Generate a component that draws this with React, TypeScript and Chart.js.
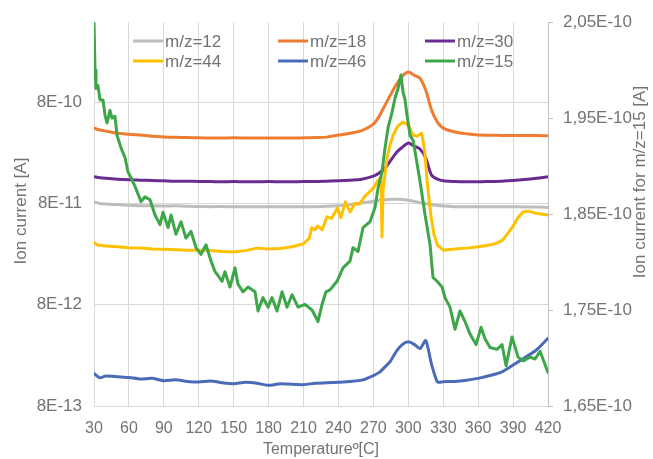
import React, { useEffect, useRef } from 'react';
import { Chart, registerables } from 'chart.js';
Chart.register(...registerables);

const FONT = "'Liberation Sans', Arial, sans-serif";
const TEXT = '#737373';

const xTickValues = [30, 60, 90, 120, 150, 180, 210, 240, 270, 300, 330, 360, 390, 420];
const leftTickValues = [8e-13, 8e-12, 8e-11, 8e-10];
const rightTickValues = [1.65, 1.75, 1.85, 1.95, 2.05]; // ×1E-10

const seriesLabels = ['m/z=12', 'm/z=18', 'm/z=30', 'm/z=44', 'm/z=46', 'm/z=15'];
const seriesColors = ['#BDBDBD', '#EE7D31', '#6B2C91', '#FFC000', '#4A6CB8', '#3DA648'];

// shared temperatures for m/z=12, 18, 30, 46
const temps = [30, 35, 40, 50, 60, 70, 80, 90, 100, 110, 120, 130, 140, 150, 160, 170, 180, 190, 200, 210, 220, 230, 240, 250, 260, 270, 275, 280, 285, 290, 295, 300, 305, 310, 315, 320, 325, 330, 340, 350, 360, 370, 380, 390, 400, 410, 420];

// ×1E-11
const mz12 = [8.3, 8.0, 7.9, 7.8, 7.7, 7.62, 7.6, 7.55, 7.58, 7.5, 7.48, 7.45, 7.47, 7.42, 7.45, 7.43, 7.45, 7.42, 7.44, 7.43, 7.45, 7.5, 7.6, 7.8, 8.1, 8.4, 8.6, 8.7, 8.8, 8.8, 8.75, 8.6, 8.4, 8.15, 7.95, 7.8, 7.65, 7.55, 7.45, 7.42, 7.45, 7.42, 7.45, 7.43, 7.4, 7.38, 7.3];
// ×1E-10
const mz18 = [4.44, 4.25, 4.15, 3.96, 3.87, 3.79, 3.7, 3.64, 3.6, 3.58, 3.56, 3.55, 3.55, 3.56, 3.55, 3.54, 3.55, 3.55, 3.54, 3.56, 3.58, 3.62, 3.79, 3.96, 4.2, 4.86, 5.83, 7.49, 9.6, 12.1, 14.5, 15.9, 14.8, 13.8, 10.5, 6.69, 5.09, 4.44, 4.06, 3.9, 3.8, 3.78, 3.76, 3.75, 3.75, 3.75, 3.73];
// ×1E-10
const mz30 = [1.47, 1.44, 1.42, 1.39, 1.37, 1.36, 1.35, 1.34, 1.33, 1.33, 1.32, 1.32, 1.31, 1.32, 1.31, 1.31, 1.32, 1.31, 1.31, 1.32, 1.32, 1.33, 1.34, 1.36, 1.39, 1.49, 1.6, 1.79, 2.14, 2.57, 2.88, 3.16, 2.95, 2.76, 2.25, 1.52, 1.39, 1.34, 1.32, 1.31, 1.31, 1.32, 1.33, 1.35, 1.38, 1.42, 1.47];
// ×1E-12
const mz46 = [1.68, 1.52, 1.58, 1.56, 1.53, 1.48, 1.5, 1.42, 1.45, 1.4, 1.38, 1.41, 1.36, 1.33, 1.37, 1.34, 1.28, 1.33, 1.31, 1.3, 1.34, 1.36, 1.37, 1.4, 1.44, 1.6, 1.72, 1.95, 2.25, 2.8, 3.25, 3.45, 3.25, 2.95, 3.55, 2.05, 1.38, 1.39, 1.4, 1.44, 1.5, 1.6, 1.73, 2.03, 2.4, 2.86, 3.73];

const yellowTemps = [30, 33, 35, 40, 50, 60, 70, 80, 90, 100, 110, 120, 130, 140, 150, 160, 170, 180, 190, 200, 210, 215, 217, 220, 222, 226, 230, 234, 239, 242, 246, 250, 254, 258, 263, 270, 274, 276.5, 277.4, 278.3, 281.7, 284.3, 287, 291, 295.5, 300, 304, 307.5, 311.5, 314, 316.5, 319.5, 322, 325, 330, 340, 350, 360, 370, 376, 381, 385, 390, 394, 398.5, 403, 409, 414, 420];
// ×1E-11
const mz44 = [3.3, 3.1, 3.1, 3.05, 2.99, 2.93, 2.9, 2.85, 2.83, 2.8, 2.77, 2.77, 2.75, 2.68, 2.66, 2.74, 2.9, 2.84, 2.88, 2.99, 3.2, 3.64, 4.6, 4.4, 4.8, 4.4, 5.9, 5.7, 7.2, 5.8, 8.3, 6.6, 8.0, 7.9, 9.5, 11.35, 13.6, 14.6, 3.73, 10.8, 22.5, 30.2, 38, 46.5, 51, 47.5, 38, 37, 39.6, 26.9, 12, 6.0, 4.0, 3.11, 2.77, 2.84, 2.9, 2.99, 3.11, 3.25, 3.48, 3.99, 4.79, 5.74, 6.58, 6.73, 6.43, 6.29, 6.14];

const greenTemps = [30, 30.9, 31.7, 33.4, 35.2, 37.7, 39.5, 41.2, 43.7, 45.5, 48, 49.8, 53.2, 56.6, 59.2, 61.8, 65.2, 70.4, 73.8, 78.1, 82.4, 86.7, 89.3, 93.6, 96.2, 100.4, 104.7, 109, 113.3, 117.6, 121.9, 126.2, 130.5, 134, 136.5, 140, 142.5, 146.8, 151.1, 153.7, 158, 162.3, 168.3, 170.9, 175.2, 179.5, 182.9, 187.2, 191.5, 195.8, 200.1, 205.3, 211.3, 217.3, 219.9, 222.4, 225.9, 229.3, 232.7, 238.8, 243.9, 249.9, 252.5, 256.8, 261.1, 267.1, 271.4, 274, 277.4, 280, 282.6, 286, 288.6, 291.2, 293.7, 295.5, 297.2, 298.9, 301.5, 304.1, 305.8, 310.1, 314.4, 318.7, 321.2, 324.7, 329, 331.5, 335.8, 340.1, 344.4, 348.7, 353, 358.2, 362.5, 365.9, 370.2, 376.2, 380.5, 384, 389.1, 394.3, 398.6, 404.6, 408.9, 413.2, 420];
// ×1E-10 (right axis)
const mz15 = [2.05, 2.0, 1.981, 1.984, 1.969, 1.969, 1.953, 1.945, 1.958, 1.95, 1.952, 1.932, 1.919, 1.909, 1.894, 1.888, 1.879, 1.863, 1.868, 1.865, 1.849, 1.839, 1.852, 1.836, 1.849, 1.829, 1.842, 1.825, 1.832, 1.815, 1.808, 1.818, 1.801, 1.79, 1.786, 1.78, 1.79, 1.774, 1.794, 1.777, 1.769, 1.774, 1.769, 1.749, 1.763, 1.753, 1.763, 1.749, 1.769, 1.753, 1.766, 1.753, 1.756, 1.75, 1.744, 1.738, 1.756, 1.769, 1.771, 1.78, 1.794, 1.801, 1.815, 1.811, 1.836, 1.842, 1.857, 1.877, 1.894, 1.919, 1.94, 1.956, 1.971, 1.981, 1.995, 1.977, 1.969, 1.953, 1.932, 1.927, 1.915, 1.884, 1.849, 1.818, 1.784, 1.78, 1.774, 1.763, 1.753, 1.73, 1.749, 1.738, 1.725, 1.714, 1.732, 1.72, 1.711, 1.709, 1.714, 1.692, 1.722, 1.701, 1.697, 1.701, 1.699, 1.707, 1.685];

const xTitle = 'Temperatureº[C]';
const leftTitle = 'Ion current [A]';
const rightTitle = 'Ion current for m/z=15 [A]';

export default function App() {
  const ref = useRef<HTMLCanvasElement>(null);

  useEffect(() => {
    if (!ref.current) return;
    const pts = (xs: number[], ys: number[], k: number) => xs.map((x, i) => ({ x, y: ys[i] * k }));
    const mk = (i: number, data: any[], axis: string, order: number, tension: number) => ({
      label: seriesLabels[i],
      data,
      yAxisID: axis,
      borderColor: seriesColors[i],
      backgroundColor: seriesColors[i],
      borderWidth: 3,
      pointRadius: 0,
      tension,
      order,
      borderJoinStyle: 'round' as const,
      borderCapStyle: 'round' as const,
    });
    const datasets = [
      mk(0, pts(temps, mz12, 1e-11), 'yL', 5, 0.3),
      mk(1, pts(temps, mz18, 1e-10), 'yL', 4, 0.3),
      mk(2, pts(temps, mz30, 1e-10), 'yL', 3, 0.3),
      mk(3, pts(yellowTemps, mz44, 1e-11), 'yL', 2, 0),
      mk(4, pts(temps, mz46, 1e-12), 'yL', 6, 0.2),
      mk(5, pts(greenTemps, mz15, 1), 'yR', 0, 0),
    ];

    const overlay = {
      id: 'overlay',
      afterDraw(chart: any) {
        const ctx = chart.ctx as CanvasRenderingContext2D;
        ctx.save();
        // legend
        const colX = [133, 278, 425];
        const rowY = [41, 61];
        ctx.font = `17px ${FONT}`;
        ctx.textBaseline = 'middle';
        ctx.textAlign = 'left';
        seriesLabels.forEach((lab, i) => {
          const x = colX[i % 3];
          const y = rowY[Math.floor(i / 3)];
          ctx.strokeStyle = seriesColors[i];
          ctx.lineWidth = 3;
          ctx.beginPath();
          ctx.moveTo(x, y);
          ctx.lineTo(x + 30, y);
          ctx.stroke();
          ctx.fillStyle = TEXT;
          ctx.fillText(lab, x + 32, y + 1);
        });
        // titles
        ctx.fillStyle = TEXT;
        ctx.textAlign = 'center';
        ctx.font = `16px ${FONT}`;
        ctx.fillText(xTitle, 321, 450);
        ctx.font = `17px ${FONT}`;
        ctx.save();
        ctx.translate(21, 211);
        ctx.rotate(-Math.PI / 2);
        ctx.fillText(leftTitle, 0, 0);
        ctx.restore();
        ctx.save();
        ctx.translate(640, 182);
        ctx.rotate(-Math.PI / 2);
        ctx.fillText(rightTitle, 0, 0);
        ctx.restore();
        ctx.restore();
      },
    };

    const chart = new Chart(ref.current, {
      type: 'line',
      data: { datasets },
      options: {
        responsive: false,
        animation: false,
        events: [],
        layout: { padding: { top: 22, left: 0, right: 0, bottom: 0 } },
        plugins: { legend: { display: false }, tooltip: { enabled: false } },
        scales: {
          x: {
            type: 'linear',
            min: 30,
            max: 420,
            bounds: 'data',
            afterBuildTicks: (s: any) => { s.ticks = xTickValues.map((v) => ({ value: v })); },
            afterFit: (s: any) => { s.height = 53; },
            grid: { color: '#d9d9d9', lineWidth: 1, drawTicks: false },
            border: { display: true, color: '#d9d9d9' },
            ticks: { color: TEXT, font: { size: 16, family: FONT }, padding: 13, maxRotation: 0, autoSkip: false },
          },
          yL: {
            type: 'logarithmic',
            position: 'left',
            min: 8e-13,
            max: 4.94e-9,
            bounds: 'data',
            afterBuildTicks: (s: any) => { s.ticks = leftTickValues.map((v) => ({ value: v })); },
            afterFit: (s: any) => { s.width = 94; },
            grid: { color: '#d9d9d9', lineWidth: 1, drawTicks: false },
            border: { display: false },
            ticks: {
              color: TEXT,
              font: { size: 17, family: FONT },
              padding: 12,
              autoSkip: false,
              callback: (v: any) => Number(v).toExponential(0).toUpperCase(),
            },
          },
          yR: {
            type: 'linear',
            position: 'right',
            min: 1.65,
            max: 2.05,
            bounds: 'data',
            afterBuildTicks: (s: any) => { s.ticks = rightTickValues.map((v) => ({ value: v })); },
            afterFit: (s: any) => { s.width = 105; },
            grid: { drawOnChartArea: false, color: '#bfbfbf', tickLength: 5, drawTicks: true },
            border: { display: true, color: '#bfbfbf' },
            ticks: {
              color: TEXT,
              font: { size: 17, family: FONT },
              padding: 10,
              autoSkip: false,
              callback: (v: any) => Number(v).toFixed(2).replace('.', ',') + 'E-10',
            },
          },
        },
      } as any,
      plugins: [overlay],
    });
    return () => chart.destroy();
  }, []);

  return (
    <div style={{ position: 'fixed', left: 0, top: 0, width: 653, height: 459, background: '#fff' }}>
      <canvas ref={ref} width={653} height={459} style={{ display: 'block', width: 653, height: 459 }} />
    </div>
  );
}
